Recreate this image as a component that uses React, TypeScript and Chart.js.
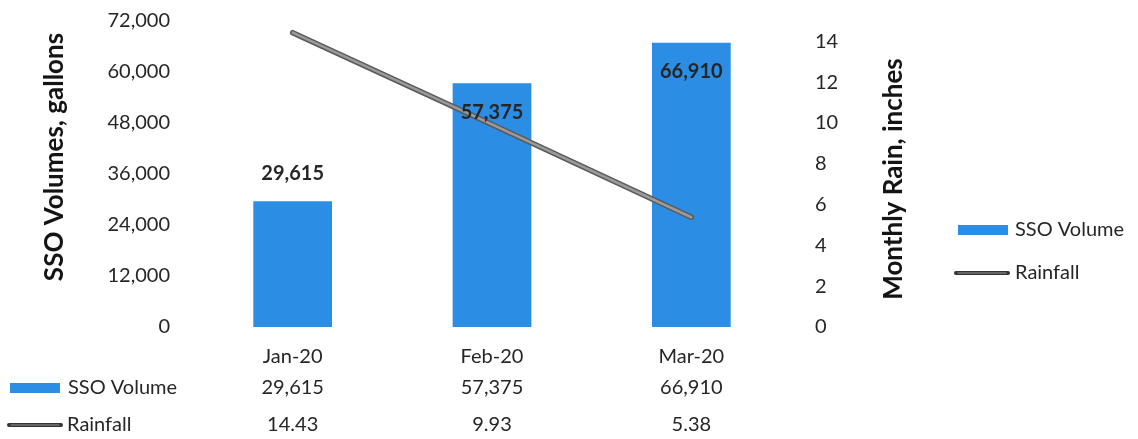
import React, { useEffect, useRef } from 'react';
import { Chart, registerables } from 'chart.js';

Chart.register(...registerables);

const categories = ['Jan-20', 'Feb-20', 'Mar-20'];
const ssoVolume = [29615, 57375, 66910];
const rainfall = [14.43, 9.93, 5.38];
const leftTicks = [0, 12000, 24000, 36000, 48000, 60000, 72000];
const rightTicks = [0, 2, 4, 6, 8, 10, 12, 14];
const rightAxisMax = 15;
const seriesNames = ['SSO Volume', 'Rainfall'];
const axisTitles = ['SSO Volumes, gallons', 'Monthly Rain, inches'];

const FONT = 'Lato, "Open Sans", sans-serif';
const BLUE = '#2b8ee4';
const TEXT = '#262626';
const LINE = '#9a9a9a';
const LINE_EDGE = '#5a5a5a';

const fmt = (v: number) => v.toLocaleString('en-US');

const W = 1138;
const H = 439;
const AREA_LEFT = 193;
const AREA_RIGHT = 791;
const TOP_PAD = 21;
const AREA_BOTTOM = 327;

function drawBarKey(ctx: CanvasRenderingContext2D, x: number, y: number) {
  ctx.save();
  ctx.fillStyle = BLUE;
  ctx.fillRect(x, y - 5, 50, 10);
  ctx.restore();
}
function drawLineKey(ctx: CanvasRenderingContext2D, x: number, y: number) {
  ctx.save();
  ctx.lineCap = 'round';
  ctx.strokeStyle = '#333333';
  ctx.lineWidth = 4;
  ctx.beginPath();
  ctx.moveTo(x, y);
  ctx.lineTo(x + 52, y);
  ctx.stroke();
  ctx.strokeStyle = '#9a9a9a';
  ctx.lineWidth = 1.2;
  ctx.beginPath();
  ctx.moveTo(x + 2, y);
  ctx.lineTo(x + 50, y);
  ctx.stroke();
  ctx.restore();
}

const extrasPlugin = {
  id: 'extras',
  beforeDatasetDraw(chart: any, args: any) {
    if (args.index !== 1) return;
    const ctx: CanvasRenderingContext2D = chart.ctx;
    const pts = chart.getDatasetMeta(1).data;
    ctx.save();
    ctx.strokeStyle = LINE_EDGE;
    ctx.lineWidth = 5.5;
    ctx.lineCap = 'round';
    ctx.beginPath();
    pts.forEach((p: any, i: number) => (i === 0 ? ctx.moveTo(p.x, p.y) : ctx.lineTo(p.x, p.y)));
    ctx.stroke();
    ctx.restore();
  },
  afterDatasetsDraw(chart: any) {
    const ctx: CanvasRenderingContext2D = chart.ctx;
    const meta = chart.getDatasetMeta(0);
    const yMax = chart.scales.y.max;
    ctx.save();
    ctx.font = `bold 20px ${FONT}`;
    ctx.fillStyle = TEXT;
    ctx.textAlign = 'center';
    ctx.textBaseline = 'middle';
    meta.data.forEach((bar: any, i: number) => {
      const v = ssoVolume[i];
      const outside = v / yMax < 0.5;
      const y = outside ? bar.y - 28 : bar.y + 29;
      ctx.fillText(fmt(v), bar.x, y);
    });
    ctx.restore();
  },
  afterDraw(chart: any) {
    const ctx: CanvasRenderingContext2D = chart.ctx;
    const xs = chart.scales.x;
    ctx.save();
    ctx.font = `bold 26px ${FONT}`;
    ctx.fillStyle = '#141414';
    ctx.textAlign = 'center';
    ctx.textBaseline = 'middle';
    ctx.save();
    ctx.translate(55, 157);
    ctx.rotate(-Math.PI / 2);
    ctx.fillText(axisTitles[0], 0, 0);
    ctx.restore();
    ctx.save();
    ctx.translate(894, 179);
    ctx.rotate(-Math.PI / 2);
    ctx.fillText(axisTitles[1], 0, 0);
    ctx.restore();

    ctx.font = `20px ${FONT}`;
    ctx.fillStyle = TEXT;
    const rowY = [388, 425];
    categories.forEach((_, i) => {
      const x = xs.getPixelForValue(i);
      ctx.textAlign = 'center';
      ctx.fillText(fmt(ssoVolume[i]), x, rowY[0]);
      ctx.fillText(rainfall[i].toFixed(2), x, rowY[1]);
    });
    ctx.textAlign = 'left';
    drawBarKey(ctx, 10, rowY[0]);
    ctx.fillText(seriesNames[0], 68, rowY[0]);
    drawLineKey(ctx, 9, rowY[1]);
    ctx.fillText(seriesNames[1], 67, rowY[1]);

    drawBarKey(ctx, 958, 230);
    ctx.fillText(seriesNames[0], 1015, 230);
    drawLineKey(ctx, 956, 273);
    ctx.fillText(seriesNames[1], 1015, 273);
    ctx.restore();
  },
};

export default function App() {
  const ref = useRef<HTMLCanvasElement>(null);
  useEffect(() => {
    document.body.style.margin = '0';
    const canvas = ref.current!;
    const chart = new Chart(canvas, {
      type: 'bar',
      data: {
        labels: categories,
        datasets: [
          {
            type: 'bar',
            label: seriesNames[0],
            data: ssoVolume,
            backgroundColor: BLUE,
            yAxisID: 'y',
            barPercentage: 0.79,
            categoryPercentage: 0.5,
            order: 2,
          },
          {
            type: 'line',
            label: seriesNames[1],
            data: rainfall,
            borderColor: LINE,
            borderWidth: 2.5,
            borderCapStyle: 'round',
            pointRadius: 0,
            yAxisID: 'y1',
            order: 1,
          },
        ],
      } as any,
      options: {
        responsive: false,
        animation: false,
        layout: { padding: { top: TOP_PAD, left: 0, right: 0, bottom: 0 } },
        plugins: { legend: { display: false }, tooltip: { enabled: false } },
        scales: {
          x: {
            grid: { display: false, drawTicks: false },
            border: { display: false },
            ticks: { font: { family: FONT, size: 20 }, color: TEXT, padding: 18 },
            afterFit: (s: any) => { s.height = H - AREA_BOTTOM; s.paddingLeft = 0; s.paddingRight = 0; },
          },
          y: {
            position: 'left',
            min: leftTicks[0],
            max: leftTicks[leftTicks.length - 1],
            grid: { display: false, drawTicks: false },
            border: { display: false },
            ticks: {
              stepSize: leftTicks[1] - leftTicks[0],
              font: { family: FONT, size: 20 },
              color: TEXT,
              padding: 23,
              callback: (v: any) => fmt(Number(v)),
            },
            afterFit: (s: any) => { s.width = AREA_LEFT; s.paddingTop = 0; s.paddingBottom = 0; },
          },
          y1: {
            position: 'right',
            min: rightTicks[0],
            max: rightAxisMax,
            grid: { display: false, drawTicks: false },
            border: { display: false },
            ticks: {
              stepSize: rightTicks[1] - rightTicks[0],
              includeBounds: false,
              font: { family: FONT, size: 20 },
              color: TEXT,
              padding: 24,
            },
            afterFit: (s: any) => { s.width = W - AREA_RIGHT; s.paddingTop = 0; s.paddingBottom = 0; },
          },
        },
      } as any,
      plugins: [extrasPlugin],
    });
    return () => chart.destroy();
  }, []);
  return (
    <div style={{ position: 'fixed', left: 0, top: 0, width: W, height: H, background: '#fff' }}>
      <canvas ref={ref} width={W} height={H} />
    </div>
  );
}
